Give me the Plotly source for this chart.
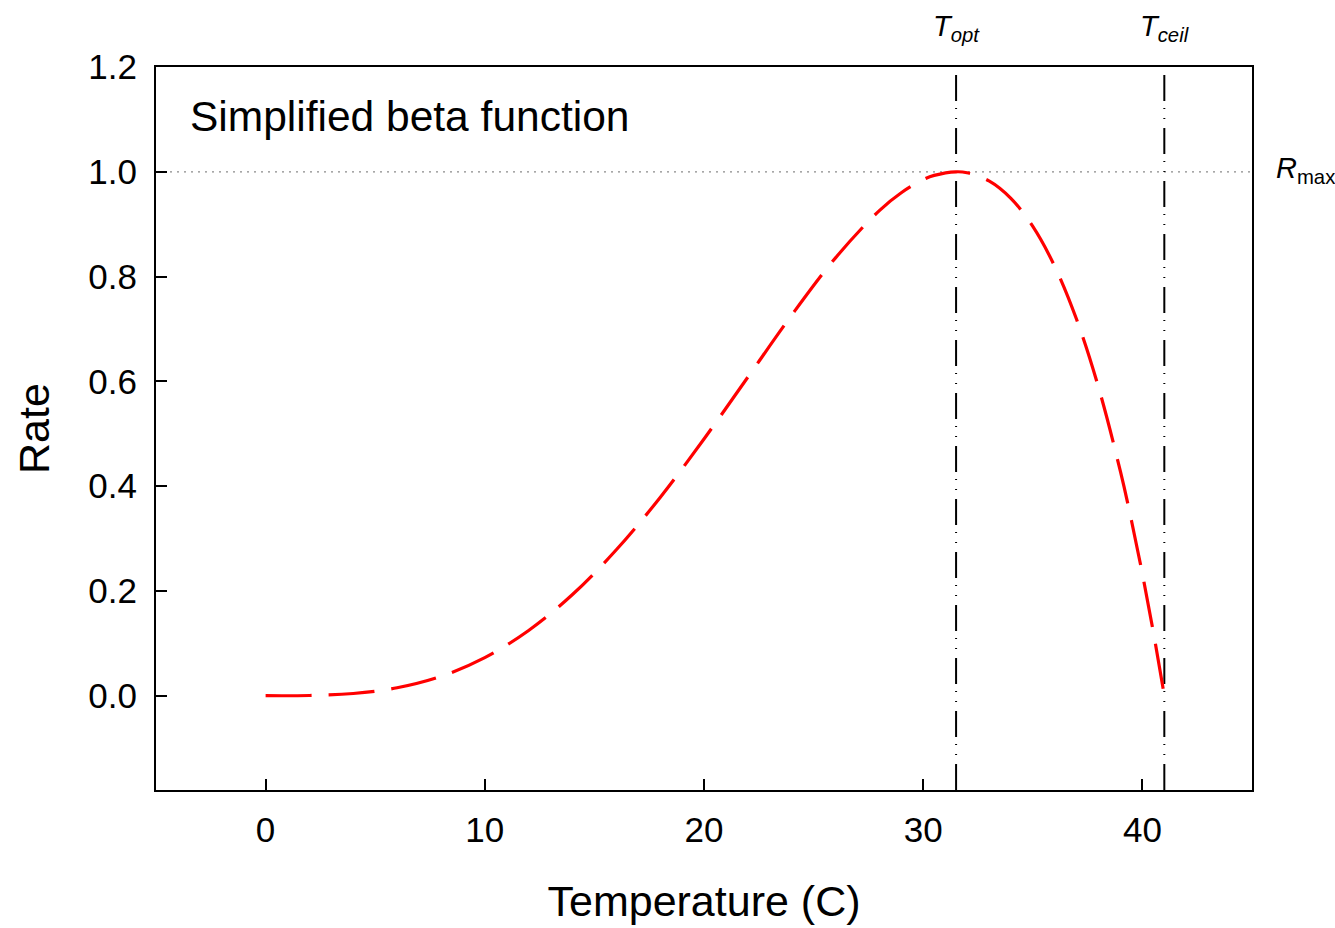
import plotly.graph_objects as go

# Data
temperature = [0, 2, 4, 6, 8, 10, 12, 14, 16, 18, 20, 22, 24, 26, 28, 29, 30, 30.5, 31.5,
               32, 33, 34, 35, 36, 37, 38, 39, 39.5, 40, 40.5, 41]
rate = [0.0, 0.0004, 0.0042, 0.0151, 0.0369, 0.0727, 0.1244, 0.1931, 0.2785, 0.3784, 0.490,
        0.608, 0.7264, 0.8357, 0.926, 0.960, 0.985, 0.9931, 1.0,
        0.9982, 0.9826, 0.9493, 0.8957, 0.8195, 0.718, 0.5882, 0.4275, 0.3344, 0.2324, 0.1211, 0.0]

t_opt = 31.5
t_ceil = 41
r_max = 1.0

x_ticks = [0, 10, 20, 30, 40]
y_ticks = [0.0, 0.2, 0.4, 0.6, 0.8, 1.0, 1.2]
x_range = [-5, 45]
y_range = [-0.18, 1.2]

FONT = "Liberation Sans, Arial, sans-serif"

fig = go.Figure()

# R_max dotted horizontal line
fig.add_trace(go.Scatter(x=x_range, y=[r_max, r_max], mode="lines",
                         line=dict(color="#8a8a8a", width=1.2, dash="2px,5px"),
                         hoverinfo="skip", showlegend=False))

# T_opt and T_ceil vertical lines
for tv in (t_opt, t_ceil):
    fig.add_trace(go.Scatter(x=[tv, tv], y=y_range, mode="lines",
                             line=dict(color="black", width=2,
                                       dash="26px,9px,1px,9px,1px,7px"),
                             hoverinfo="skip", showlegend=False))

# Beta curve
fig.add_trace(go.Scatter(x=temperature, y=rate, mode="lines",
                         line=dict(color="#ff0000", width=3.2, dash="46px,17px", shape="spline"),
                         showlegend=False))

fig.add_annotation(x=-3.55, y=1.105, xref="x", yref="y", text="Simplified beta function",
                   showarrow=False, xanchor="left", yanchor="middle",
                   font=dict(family=FONT, size=42.5, color="black"))

fig.add_annotation(x=t_opt, y=1, xref="x", yref="paper",
                   text="<i>T</i><sub><i>opt</i></sub>", showarrow=False,
                   xanchor="center", yanchor="bottom", yshift=19,
                   font=dict(family=FONT, size=29, color="black"))
fig.add_annotation(x=t_ceil, y=1, xref="x", yref="paper",
                   text="<i>T</i><sub><i>ceil</i></sub>", showarrow=False,
                   xanchor="center", yanchor="bottom", yshift=19,
                   font=dict(family=FONT, size=29, color="black"))
fig.add_annotation(x=1, y=r_max, xref="paper", yref="y",
                   text="<i>R</i><sub>max</sub>", showarrow=False,
                   xanchor="left", yanchor="middle", xshift=22, yshift=2,
                   font=dict(family=FONT, size=29, color="black"))

fig.update_layout(
    width=1335, height=928,
    margin=dict(l=156, r=83, t=67, b=138),
    paper_bgcolor="white", plot_bgcolor="white",
    font=dict(family=FONT, color="black"),
    xaxis=dict(range=x_range, tickvals=x_ticks, ticks="inside", ticklen=11, tickwidth=2,
               tickcolor="black", showline=True, linecolor="black", linewidth=2, mirror=True,
               showgrid=False, zeroline=False, ticklabelstandoff=8, automargin=False,
               tickfont=dict(family=FONT, size=35, color="black"),
               title=dict(text="Temperature (C)", standoff=38,
                          font=dict(family=FONT, size=43, color="black"))),
    yaxis=dict(range=y_range, tickvals=y_ticks, tickformat=".1f", ticks="inside", ticklen=11,
               tickwidth=2, tickcolor="black", showline=True, linecolor="black", linewidth=2,
               mirror=True, showgrid=False, zeroline=False, ticklabelstandoff=10, automargin=False,
               tickfont=dict(family=FONT, size=35, color="black"),
               title=dict(text="Rate", standoff=25,
                          font=dict(family=FONT, size=43, color="black"))),
)

fig.write_html("out.html")
